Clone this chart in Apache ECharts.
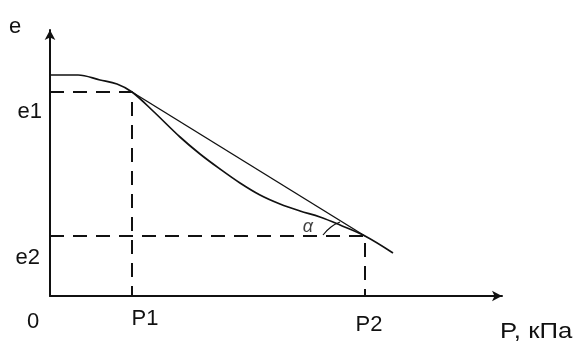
<!DOCTYPE html>
<html>
<head>
<meta charset="utf-8">
<script src="https://cdn.jsdelivr.net/npm/echarts@6/dist/echarts.min.js"></script>
<style>
  html, body { margin: 0; padding: 0; background: #fff; }
  #chart { width: 580px; height: 341px; }
</style>
</head>
<body>
<div id="chart"></div>
<script>
// pressure (x) and void ratio (e) marks
const pLabels = ['P1', 'P2']
const pValues = [82, 315]
const eLabels = ['e1', 'e2']
const eValues = [204, 60]

// compression curve e(P)
const curveP = [0, 28, 50, 67, 82, 103, 130, 150, 170, 190, 210, 230, 250, 270, 290, 315, 343]
const curveE = [221, 221, 216, 212, 204, 185, 159, 142, 127, 113, 101, 92, 85, 79, 71, 60, 43]

// small arc marking the angle alpha
const alphaArcP = [273, 281, 290]
const alphaArcE = [61, 69, 74]
const alphaLabel = ['α']
const alphaPos = [[258, 69]]

const font = 'Liberation Sans, Arial, sans-serif'
const ink = '#111'

let chart = echarts.init(document.getElementById('chart'))

const curveData = curveP.map((p, i) => [p, curveE[i]])
const chordData = [[pValues[0], eValues[0]], [pValues[1], eValues[1]]]
const arcData = alphaArcP.map((p, i) => [p, alphaArcE[i]])

const dashed = [14, 9]
const guideSeries = pValues.map((p, i) => ({
  type: 'line',
  data: [[0, eValues[i]], [p, eValues[i]], [p, 0]],
  symbol: 'none',
  lineStyle: { color: ink, width: 2, type: dashed },
  silent: true
}))

const option = {
  animation: false,
  grid: { left: 50, right: 78, top: 30, bottom: 45 },
  xAxis: {
    type: 'value',
    min: 0,
    max: 452,
    splitLine: { show: false },
    axisTick: { show: false },
    axisLine: {
      lineStyle: { color: ink, width: 2 },
      symbol: ['none', 'arrow'],
      symbolSize: [8, 10]
    },
    axisLabel: {
      customValues: pValues,
      margin: 12,
      formatter: function(v) {
        const i = pValues.indexOf(v)
        return '{b' + i + '|' + pLabels[i] + '}'
      },
      rich: {
        b0: { fontSize: 22, fontFamily: font, color: ink, padding: [0, 0, 0, 26] },
        b1: { fontSize: 22, fontFamily: font, color: ink, padding: [6, 0, 0, 8] }
      }
    }
  },
  yAxis: {
    type: 'value',
    min: 0,
    max: 266,
    splitLine: { show: false },
    axisTick: { show: false },
    axisLine: {
      lineStyle: { color: ink, width: 2 },
      symbol: ['none', 'arrow'],
      symbolSize: [8, 10]
    },
    axisLabel: {
      customValues: eValues,
      margin: 8,
      formatter: function(v) {
        const i = eValues.indexOf(v)
        return '{a' + i + '|' + eLabels[i] + '}'
      },
      rich: {
        a0: { fontSize: 22, fontFamily: font, color: ink, padding: [40, 0, 0, 0] },
        a1: { fontSize: 22, fontFamily: font, color: ink, padding: [43, 2, 0, 0] }
      }
    }
  },
  graphic: [
    { type: 'text', left: 9, top: 16, style: { text: 'e', font: '22px ' + font, fill: ink } },
    { type: 'text', left: 27, top: 311, style: { text: '0', font: '22px ' + font, fill: ink } },
    { type: 'text', left: 500, top: 321, scaleX: 1.17, style: { text: 'P, кПа', font: '22px ' + font, fill: ink } }
  ],
  series: [
    {
      type: 'line',
      data: curveData,
      symbol: 'none',
      smooth: 0.35,
      lineStyle: { color: ink, width: 1.7 }
    },
    {
      type: 'line',
      data: chordData,
      symbol: 'none',
      lineStyle: { color: ink, width: 1.4 }
    },
    ...guideSeries,
    {
      type: 'line',
      data: arcData,
      symbol: 'none',
      smooth: true,
      lineStyle: { color: ink, width: 1.2 }
    },
    {
      type: 'scatter',
      data: alphaPos,
      symbolSize: 0,
      label: {
        show: true,
        position: 'inside',
        formatter: function(p) { return alphaLabel[p.dataIndex] },
        fontSize: 18,
        fontStyle: 'italic',
        fontFamily: font,
        color: ink
      }
    }
  ]
}

chart.setOption(option)
</script>
</body>
</html>
